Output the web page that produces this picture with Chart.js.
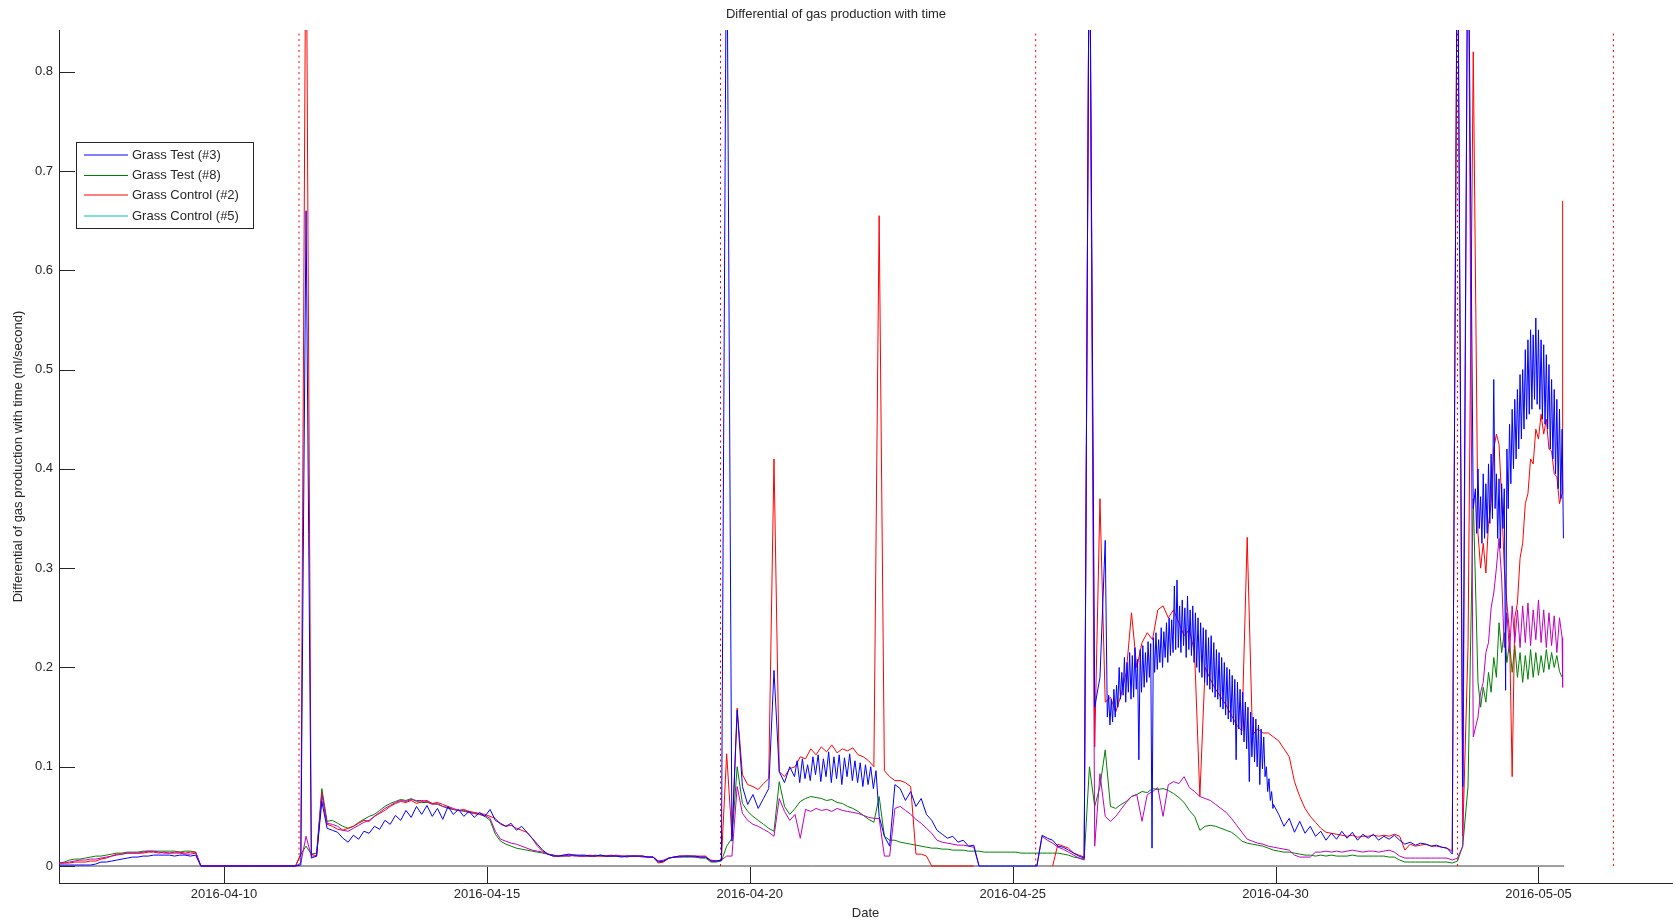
<!DOCTYPE html>
<html>
<head>
<meta charset="utf-8">
<title>Differential of gas production with time</title>
<script src="https://cdn.jsdelivr.net/npm/chart.js@4.4.1/dist/chart.umd.min.js"></script>
<style>
  html, body { margin: 0; padding: 0; background: #fff; }
  #wrap { width: 1675px; height: 921px; }
</style>
</head>
<body>
<div id="wrap"><canvas id="gasChart" width="1675" height="921"></canvas></div>
<script>
// sample times are days of April 2016, one reading every 0.1 day
var tStart = 6.86;
var tStep = 0.1;

// one row per day, first value of each row at 6.86, 7.86, 8.86 ...
var grassTest3 = [
  0.001,0.001,0.001,0.001,0.001,0.001,0.001,0.002,0.004,0.004,
  0.005,0.006,0.007,0.008,0.009,0.009,0.010,0.010,0.011,0.011,
  0.011,0.011,0.010,0.011,0.011,0.010,0.011,0,0,0,
  0,0,0,0,0,0,0,0,0,0,
  0,0,0,0,0,0,0.001,0.66,0.008,0.010,
  0.065,0.038,0.036,0.034,0.028,0.024,0.031,0.027,0.035,0.033,
  0.040,0.037,0.046,0.042,0.051,0.046,0.056,0.049,0.060,0.052,
  0.061,0.050,0.058,0.047,0.060,0.052,0.057,0.050,0.055,0.049,
  0.054,0.050,0.057,0.046,0.043,0.040,0.043,0.036,0.040,0.034,
  0.028,0.022,0.016,0.012,0.010,0.010,0.011,0.012,0.011,0.011,
  0.011,0.010,0.010,0.011,0.010,0.010,0.010,0.009,0.010,0.010,
  0.010,0.010,0.009,0.009,0.004,0.005,0.008,0.009,0.010,0.010,
  0.010,0.010,0.009,0.009,0.005,0.005,0.006,1.0,0.025,0.157,
  0.080,0.062,0.072,0.058,0.068,0.078,0.197,0.095,0.084,0.100,
  0.088,0.105,0.085,0.108,0.090,0.112,0.086,0.110,0.088,0.113,
  0.088,0.108,0.084,0.104,0.080,0.095,0.050,0.030,0.020,0.082,
  0.078,0.066,0.075,0.060,0.068,0.052,0.046,0.036,0.032,0.028,
  0.030,0.024,0.026,0.020,0.021,0,0,0,0,0,
  0,0,0,0,0,0,0,0.031,0.028,0.026,
  0.020,0.019,0.016,0.013,0.010,0.008,1.0,0.160,0.190,0.328,
  0.150,0.142,0.185,0.165,0.205,0.170,0.120,0.220,0.020,0.225,
  0.240,0.200,0.250,0.285,0.215,0.265,0.210,0.245,0.190,0.235,
  0.175,0.222,0.165,0.205,0.145,0.180,0.120,0.155,0.095,0.130,
  0.085,0.062,0.052,0.040,0.048,0.034,0.045,0.033,0.040,0.030,
  0.035,0.026,0.033,0.027,0.035,0.028,0.034,0.026,0.032,0.028,
  0.032,0.026,0.030,0.027,0.031,0.026,0.022,0.024,0.021,0.023,
  0.022,0.020,0.021,0.019,0.018,0.012,1.0,0.080,1.0,0.360,
  0.400,0.330,0.385,0.490,0.340,0.180,0.420,0.455,0.420,0.510,
  0.470,0.548,0.480,0.515,0.430,0.470,0.330
];

var grassTest8 = [
  0.003,0.004,0.006,0.007,0.007,0.008,0.009,0.010,0.010,0.011,
  0.012,0.013,0.013,0.014,0.014,0.014,0.015,0.015,0.015,0.015,
  0.015,0.015,0.015,0.014,0.015,0.015,0.014,0,0,0,
  0,0,0,0,0,0,0,0,0,0,
  0,0,0,0,0,0,0.012,0.020,0.012,0.013,
  0.078,0.045,0.046,0.043,0.040,0.038,0.040,0.044,0.047,0.050,
  0.052,0.056,0.060,0.063,0.065,0.067,0.066,0.068,0.065,0.064,
  0.064,0.063,0.062,0.060,0.058,0.057,0.056,0.055,0.054,0.053,
  0.052,0.050,0.046,0.032,0.025,0.022,0.020,0.018,0.017,0.016,
  0.015,0.014,0.013,0.012,0.011,0.010,0.010,0.010,0.011,0.010,
  0.010,0.010,0.011,0.010,0.010,0.010,0.010,0.010,0.010,0.010,
  0.010,0.010,0.009,0.009,0.005,0.005,0.008,0.009,0.009,0.009,
  0.009,0.009,0.008,0.008,0.004,0.004,0.005,0.020,0.028,0.100,
  0.063,0.055,0.050,0.046,0.042,0.038,0.035,0.085,0.060,0.052,
  0.058,0.065,0.068,0.070,0.069,0.068,0.066,0.067,0.064,0.063,
  0.060,0.058,0.055,0.051,0.047,0.044,0.070,0.030,0.026,0.026,
  0.024,0.023,0.022,0.021,0.020,0.019,0.018,0.018,0.017,0.017,
  0.016,0.016,0.016,0.015,0.015,0.015,0.014,0.014,0.014,0.014,
  0.014,0.014,0.014,0.013,0.013,0.013,0.013,0.013,0.013,0.013,
  0.013,0.012,0.011,0.009,0.008,0.007,0.100,0.060,0.080,0.117,
  0.060,0.058,0.062,0.065,0.070,0.072,0.075,0.074,0.078,0.077,
  0.078,0.076,0.073,0.069,0.064,0.056,0.050,0.036,0.040,0.041,
  0.040,0.038,0.036,0.034,0.030,0.025,0.023,0.022,0.021,0.020,
  0.018,0.016,0.015,0.014,0.014,0.013,0.012,0.011,0.011,0.010,
  0.011,0.010,0.011,0.010,0.010,0.010,0.011,0.010,0.010,0.010,
  0.010,0.010,0.010,0.009,0.009,0.006,0.004,0.004,0.004,0.004,
  0.004,0.004,0.004,0.004,0.004,0.003,0.005,0.020,0.080,0.370,
  0.175,0.165,0.190,0.205,0.245,0.215,0.195,0.218,0.190,0.212,
  0.195,0.215,0.198,0.212,0.200,0.210,0.190
];

var grassControl2 = [
  0.003,0.003,0.003,0.004,0.004,0.004,0.005,0.005,0.007,0.008,
  0.010,0.012,0.012,0.013,0.013,0.013,0.013,0.014,0.014,0.013,
  0.014,0.013,0.014,0.014,0.013,0.014,0.014,0,0,0,
  0,0,0,0,0,0,0,0,0,0,
  0,0,0,0,0,0,0.012,1.0,0.012,0.010,
  0.074,0.042,0.040,0.037,0.036,0.038,0.040,0.043,0.046,0.045,
  0.050,0.053,0.056,0.060,0.063,0.065,0.064,0.066,0.063,0.065,
  0.066,0.063,0.064,0.062,0.060,0.058,0.056,0.057,0.055,0.054,
  0.053,0.052,0.050,0.048,0.042,0.040,0.041,0.038,0.036,0.034,
  0.028,0.020,0.015,0.012,0.010,0.010,0.011,0.010,0.011,0.010,
  0.010,0.011,0.010,0.010,0.010,0.011,0.010,0.010,0.009,0.010,
  0.010,0.010,0.009,0.009,0.003,0.004,0.008,0.009,0.010,0.010,
  0.010,0.010,0.010,0.010,0.005,0.005,0.006,0.113,0.030,0.159,
  0.092,0.082,0.080,0.077,0.083,0.088,0.410,0.095,0.090,0.098,
  0.100,0.110,0.108,0.118,0.112,0.120,0.115,0.122,0.114,0.118,
  0.116,0.119,0.112,0.110,0.106,0.100,0.655,0.096,0.090,0.086,
  0.086,0.084,0.080,0.012,0.012,0.010,0,0,0,0,
  0,0,0,0,0,null,null,null,null,null,
  null,null,null,null,null,null,null,null,null,0,
  0.022,0.020,0.018,0.013,0.011,0.009,1.0,0.120,0.370,0.165,
  0.170,0.155,0.172,0.195,0.255,0.200,0.225,0.235,0.228,0.258,
  0.262,0.250,0.258,0.245,0.232,0.238,0.215,0.070,0.200,0.188,
  0.178,0.170,0.162,0.152,0.142,0.136,0.331,0.132,0.138,0.134,
  0.134,0.130,0.126,0.118,0.110,0.085,0.070,0.058,0.050,0.044,
  0.038,0.034,0.033,0.032,0.031,0.030,0.031,0.029,0.030,0.030,
  0.031,0.030,0.031,0.030,0.032,0.030,0.016,0.022,0.020,0.021,
  0.022,0.020,0.020,0.019,0.018,0.015,1.0,0.030,0.220,0.820,
  0.330,0.305,0.360,0.430,0.400,0.270,0.090,0.280,0.340,0.390,
  0.420,0.445,0.450,0.430,0.400,0.375,0.670
];

// drawn in magenta on the plot
var grassControl5 = [
  0.003,0.003,0.004,0.005,0.006,0.006,0.007,0.007,0.008,0.009,
  0.010,0.011,0.012,0.013,0.013,0.013,0.014,0.015,0.015,0.014,
  0.013,0.013,0.013,0.013,0.012,0.012,0.013,0,0,0,
  0,0,0,0,0,0,0,0,0,0,
  0,0,0,0,0,0,0.003,0.030,0.010,0.010,
  0.072,0.043,0.042,0.040,0.036,0.035,0.038,0.041,0.044,0.046,
  0.050,0.054,0.058,0.061,0.064,0.066,0.065,0.067,0.066,0.066,
  0.065,0.062,0.063,0.060,0.059,0.057,0.056,0.056,0.054,0.053,
  0.052,0.051,0.048,0.035,0.027,0.025,0.023,0.022,0.020,0.018,
  0.016,0.015,0.014,0.012,0.011,0.010,0.010,0.011,0.010,0.010,
  0.010,0.010,0.010,0.011,0.010,0.010,0.011,0.010,0.010,0.010,
  0.010,0.009,0.009,0.009,0.005,0.006,0.008,0.009,0.009,0.010,
  0.010,0.009,0.009,0.009,0.006,0.005,0.006,0.010,0.010,0.080,
  0.053,0.046,0.042,0.040,0.037,0.034,0.030,0.068,0.055,0.046,
  0.052,0.028,0.057,0.055,0.058,0.056,0.057,0.055,0.058,0.056,
  0.055,0.054,0.053,0.051,0.049,0.048,0.048,0.010,0.010,0.058,
  0.060,0.056,0.052,0.047,0.043,0.038,0.033,0.026,0.024,0.023,
  0.022,0.021,0.021,0.020,0.019,0,null,null,null,null,
  null,null,null,null,null,null,0,0.030,0.026,0.023,
  0.019,0.017,0.014,0.011,0.008,0.006,1.0,0.020,0.093,0.050,
  0.045,0.050,0.057,0.064,0.070,0.072,0.045,0.072,0.075,0.079,
  0.050,0.082,0.085,0.083,0.090,0.079,0.075,0.070,0.068,0.066,
  0.062,0.058,0.054,0.048,0.041,0.034,0.027,0.025,0.023,0.022,
  0.020,0.019,0.018,0.017,0.016,0.011,0.009,0.009,0.009,0.014,
  0.014,0.015,0.014,0.015,0.014,0.015,0.016,0.015,0.014,0.015,
  0.015,0.014,0.015,0.016,0.014,0.010,0.008,0.008,0.008,0.008,
  0.008,0.008,0.008,0.008,0.008,0.006,0.008,0.020,1.0,0.130,
  0.160,0.195,0.240,0.285,0.330,0.205,0.235,0.262,0.225,0.258,
  0.228,0.262,0.230,0.255,0.232,0.250,0.180
];

// denser readings where the signal is noisy (they replace the coarse ones in their span)
var fineStep = 0.025;
var halfStep = 0.05;

var test3Apr21Start = 20.85; // every 0.05 day
var test3Apr21 = [
  0.090,0.106,0.084,0.108,0.088,0.102,0.086,0.110,
  0.092,0.112,0.085,0.108,0.090,0.115,0.084,0.110,
  0.088,0.112,0.082,0.109,0.090,0.113,0.086,0.106,
  0.084,0.104,0.080,0.102,0.082,0.100,0.078,0.096
];

var test3Apr28Start = 26.80; // every 0.025 day
var test3Apr28 = [
  0.150,0.172,0.142,0.168,0.145,0.178,0.150,0.182,
  0.160,0.200,0.168,0.195,0.172,0.210,0.165,0.205,
  0.175,0.215,0.168,0.212,0.170,0.220,0.178,0.208,
  0.107,0.218,0.175,0.222,0.180,0.215,0.185,0.226,
  0.190,0.224,0.018,0.230,0.195,0.235,0.198,0.228,
  0.205,0.240,0.200,0.236,0.210,0.245,0.205,0.250,
  0.212,0.248,0.215,0.282,0.218,0.288,0.220,0.262,
  0.215,0.268,0.222,0.260,0.210,0.272,0.218,0.258,
  0.212,0.262,0.205,0.255,0.200,0.250,0.195,0.245,
  0.190,0.240,0.185,0.238,0.182,0.230,0.178,0.232,
  0.175,0.225,0.170,0.218,0.168,0.215,0.160,0.210,
  0.158,0.205,0.152,0.200,0.148,0.198,0.145,0.192,
  0.142,0.188,0.107,0.185,0.138,0.178,0.132,0.175,
  0.125,0.165,0.118,0.160,0.085,0.155,0.110,0.150,
  0.105,0.148,0.100,0.142,0.082,0.138,0.098,0.130,
  0.090,0.100,0.075,0.088,0.066,0.075,0.058
];

var test3May4Start = 33.80; // every 0.025 day
var test3May4 = [
  0.380,0.335,0.400,0.340,0.372,0.325,0.395,0.330,
  0.385,0.335,0.405,0.345,0.415,0.350,0.490,0.360,
  0.395,0.330,0.390,0.320,0.385,0.340,0.380,0.177,
  0.420,0.360,0.445,0.385,0.460,0.400,0.470,0.410,
  0.480,0.420,0.495,0.430,0.500,0.440,0.520,0.450,
  0.530,0.455,0.540,0.460,0.535,0.470,0.552,0.465,
  0.540,0.460,0.530,0.450,0.525,0.445,0.515,0.440,
  0.505,0.420,0.490,0.410,0.480,0.395,0.470,0.380,
  0.460,0.370,0.440,0.330
];

var mayStart = 33.85; // every 0.05 day
var control2May4 = [
  0.335,0.300,0.325,0.295,0.345,0.365,0.420,0.435,
  0.425,0.370,0.300,0.265,0.235,0.090,0.250,0.265,
  0.310,0.325,0.365,0.375,0.410,0.405,0.440,0.430,
  0.455,0.435,0.450,0.420,0.418,0.395,0.392,0.365,
  0.375
];
var test8May4 = [
  0.185,0.160,0.180,0.165,0.195,0.175,0.210,0.190,
  0.245,0.215,0.235,0.205,0.225,0.195,0.222,0.190,
  0.215,0.185,0.212,0.188,0.218,0.190,0.215,0.192,
  0.212,0.195,0.218,0.198,0.215,0.200,0.212,0.196,
  0.190
];
var control5May4 = [
  0.150,0.175,0.185,0.215,0.225,0.260,0.275,0.300,
  0.330,0.290,0.220,0.255,0.215,0.262,0.225,0.258,
  0.220,0.262,0.225,0.265,0.222,0.258,0.228,0.268,
  0.225,0.258,0.220,0.255,0.222,0.252,0.215,0.250,
  0.230
];

// red dotted markers (days of April)
var markerDays = [11.426, 19.443, 25.437, 33.46, 36.426];
var dataStart = 6.86;
var dataEnd = 35.49;

var xTickValues = [10, 15, 20, 25, 30, 35];
var xTickLabels = ['2016-04-10', '2016-04-15', '2016-04-20', '2016-04-25', '2016-04-30', '2016-05-05'];
var yTickValues = [0, 0.1, 0.2, 0.3, 0.4, 0.5, 0.6, 0.7, 0.8];
var yTickLabels = ['0', '0.1', '0.2', '0.3', '0.4', '0.5', '0.6', '0.7', '0.8'];

var legendLabels = ['Grass Test (#3)', 'Grass Test (#8)', 'Grass Control (#2)', 'Grass Control (#5)'];
var legendColors = ['#0000ff', '#008000', '#ff0000', '#00bfbf'];

var axisColor = '#262626';
var fontFamily = '"Liberation Sans", Arial, Helvetica, sans-serif';

function toPoints(values, windows) {
  var pts = [];
  values.forEach(function(v, i) {
    var t = tStart + i * tStep;
    var covered = windows.some(function(w) {
      var end = w.start + (w.values.length - 1) * w.step;
      return t >= w.start - 1e-6 && t <= end + 1e-6;
    });
    if (!covered) pts.push({ x: t, y: v });
  });
  windows.forEach(function(w) {
    w.values.forEach(function(v, j) {
      pts.push({ x: w.start + j * w.step, y: v });
    });
  });
  pts.sort(function(a, b) { return a.x - b.x; });
  return pts;
}

function lineSet(values, windows, color) {
  return {
    data: toPoints(values, windows),
    borderColor: color,
    borderWidth: 1,
    pointRadius: 0,
    tension: 0,
    spanGaps: false,
    fill: false
  };
}

var datasets = [
  lineSet(grassTest3, [
    { start: test3Apr21Start, step: halfStep, values: test3Apr21 },
    { start: test3Apr28Start, step: fineStep, values: test3Apr28 },
    { start: test3May4Start, step: fineStep, values: test3May4 }
  ], '#0000ff'),
  lineSet(grassControl5, [{ start: mayStart, step: halfStep, values: control5May4 }], '#bf00bf'),
  lineSet(grassControl2, [{ start: mayStart, step: halfStep, values: control2May4 }], '#ff0000'),
  lineSet(grassTest8, [{ start: mayStart, step: halfStep, values: test8May4 }], '#008000'),
  {
    data: [{ x: dataStart, y: 0 }, { x: dataEnd, y: 0 }],
    borderColor: '#404040', borderWidth: 1, pointRadius: 0
  }
];
markerDays.forEach(function(d) {
  datasets.push({
    data: [{ x: d, y: 0 }, { x: d, y: 1 }],
    borderColor: '#ff0000', borderWidth: 1, borderDash: [2, 3.5], pointRadius: 0
  });
});

var matlabAxes = {
  id: 'matlabAxes',
  afterDraw: function(chart) {
    var ctx = chart.ctx;
    var area = chart.chartArea;
    var xs = chart.scales.x;
    var ys = chart.scales.y;
    ctx.save();
    ctx.strokeStyle = axisColor;
    ctx.lineWidth = 1;
    ctx.beginPath();
    yTickValues.forEach(function(v) {
      var py = Math.round(ys.getPixelForValue(v)) + 0.5;
      ctx.moveTo(area.left, py);
      ctx.lineTo(area.left + 16, py);
    });
    xTickValues.forEach(function(v) {
      var px = Math.round(xs.getPixelForValue(v)) + 0.5;
      ctx.moveTo(px, area.bottom);
      ctx.lineTo(px, area.bottom - 16);
    });
    ctx.stroke();

    // legend box
    var lx = 76, ly = 142, lw = 177, lh = 86;
    ctx.fillStyle = '#ffffff';
    ctx.fillRect(lx, ly, lw, lh);
    ctx.strokeStyle = axisColor;
    ctx.strokeRect(lx + 0.5, ly + 0.5, lw, lh);
    ctx.font = '13px ' + fontFamily;
    ctx.textBaseline = 'middle';
    ctx.textAlign = 'left';
    var crisp = [0, 0.5, 0, 0];
    legendLabels.forEach(function(label, i) {
      var y = Math.round(ly + 13 + i * 20.2);
      ctx.strokeStyle = legendColors[i];
      ctx.beginPath();
      ctx.moveTo(lx + 8, y + crisp[i]);
      ctx.lineTo(lx + 52, y + crisp[i]);
      ctx.stroke();
      ctx.fillStyle = axisColor;
      ctx.fillText(label, lx + 56, y + 0.5);
    });
    ctx.restore();
  }
};

Chart.defaults.font.family = fontFamily;
Chart.defaults.font.size = 13;
Chart.defaults.color = axisColor;

new Chart(document.getElementById('gasChart'), {
  type: 'line',
  data: { datasets: datasets },
  plugins: [matlabAxes],
  options: {
    responsive: false,
    animation: false,
    events: [],
    layout: { padding: { left: 0, right: 3, top: 0, bottom: 0 } },
    plugins: {
      legend: { display: false },
      tooltip: { enabled: false },
      title: {
        display: true,
        text: 'Differential of gas production with time',
        color: axisColor,
        font: { size: 13, weight: 'normal' },
        padding: { top: 7, bottom: 7.4 }
      }
    },
    scales: {
      x: {
        type: 'linear',
        min: 6.861,
        max: 37.54,
        grid: { display: false, drawTicks: false },
        border: { display: true, color: axisColor, width: 1 },
        afterBuildTicks: function(scale) {
          scale.ticks = xTickValues.map(function(v) { return { value: v }; });
        },
        afterFit: function(scale) { scale.height = 38; },
        ticks: {
          autoSkip: false,
          maxRotation: 0,
          padding: 4,
          color: axisColor,
          callback: function(value) {
            var k = xTickValues.indexOf(value);
            return k >= 0 ? xTickLabels[k] : '';
          }
        },
        title: {
          display: true,
          text: 'Date',
          color: axisColor,
          padding: { top: 0, bottom: 0 }
        }
      },
      y: {
        type: 'linear',
        min: -0.0171,
        max: 0.842,
        grid: { display: false, drawTicks: false },
        border: { display: true, color: axisColor, width: 1 },
        afterBuildTicks: function(scale) {
          scale.ticks = yTickValues.map(function(v) { return { value: v }; });
        },
        afterFit: function(scale) { scale.width = 59; },
        ticks: {
          autoSkip: false,
          padding: 6,
          color: axisColor,
          callback: function(value) {
            var k = yTickValues.indexOf(value);
            return k >= 0 ? yTickLabels[k] : '';
          }
        },
        title: {
          display: true,
          text: 'Differential of gas production with time (ml/second)',
          color: axisColor,
          padding: { top: 11, bottom: 0 }
        }
      }
    }
  }
});
</script>
</body>
</html>
